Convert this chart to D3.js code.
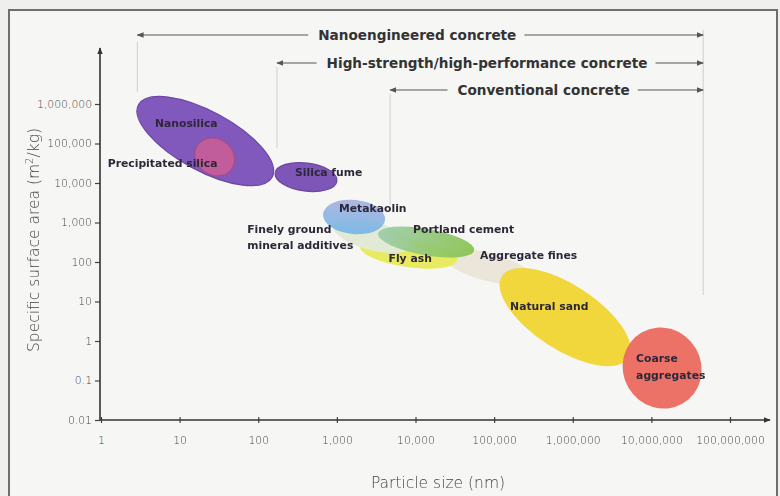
<!DOCTYPE html>
<html>
<head>
<meta charset="utf-8">
<script src="https://cdn.jsdelivr.net/npm/d3@7"></script>
<style>
  html, body { margin: 0; padding: 0; background: #efefed; }
  svg { display: block; }
</style>
</head>
<body>
<div id="chart"></div>
<script>
// axis ticks
var sizeTicks = [1, 10, 100, 1e3, 1e4, 1e5, 1e6, 1e7, 1e8];
var areaTicks = [0.01, 0.1, 1, 10, 100, 1e3, 1e4, 1e5, 1e6];

// materials: major axis runs from (sizeFrom, areaFrom) to (sizeTo, areaTo)
var materials = ["Aggregate fines", "Fly ash", "Finely ground mineral additives", "Portland cement",
                 "Metakaolin", "Natural sand", "Coarse aggregates", "Silica fume", "Nanosilica", "Precipitated silica"];
var sizeFrom = [22400, 1970, 900, 3340, 667, 126000, 7.5e6, 164, 3, 17];
var sizeTo   = [313000, 33800, 8800, 55700, 4100, 5.07e6, 2.5e7, 1000, 150, 46];
var areaFrom = [150, 254, 815, 527, 1640, 44, 1.64, 17900, 950000, 92000];
var areaTo   = [37, 112, 254, 196, 1160, 0.37, 0.026, 11200, 14000, 22600];
var roundness = [0.3, 0.29, 0.35, 0.27, 0.55, 0.43, 0.95, 0.45, 0.39, 0.86];

// concrete classes by particle size (nm)
var classNames = ["Nanoengineered concrete", "High-strength/high-performance concrete", "Conventional concrete"];
var classFrom = [2.9, 173, 4750];
var classTo = 4.56e7;
var guideDown = [2e6, 77000, 2770];   // where the thin guide line stops (m2/kg)
var guideEndDown = 14.6;

var width = 780, height = 496;

var svg = d3.select("#chart").append("svg")
    .attr("width", width)
    .attr("height", height);

var x = d3.scaleLog().domain([1, 1e8]).range([101, 730]);
var y = d3.scaleLog().domain([0.01, 1e6]).range([420, 104]);

var fills = {
    "Nanosilica": "#8159bb",
    "Precipitated silica": "#c25d9c",
    "Silica fume": "#7d57b8",
    "Metakaolin": "url(#gMeta)",
    "Finely ground mineral additives": "#e2ead6",
    "Portland cement": "url(#gPort)",
    "Fly ash": "#e8ea5e",
    "Aggregate fines": "#ebe6d9",
    "Natural sand": "#f1d73b",
    "Coarse aggregates": "#eb6a60"
};
var strokes = {
    "Nanosilica": "#6c46a6",
    "Precipitated silica": "#a94b8b",
    "Silica fume": "#6a46a3"
};
var opac = {
    "Portland cement": 0.9,
    "Coarse aggregates": 0.95,
    "Metakaolin": 0.92
};

// label layout relative to ellipse centre
var labelPos = {
    "Nanosilica": {dx: -19, dy: [-18], anchor: "middle", lines: ["Nanosilica"]},
    "Precipitated silica": {dx: -107, dy: [6], anchor: "start", lines: ["Precipitated silica"]},
    "Silica fume": {dx: -11, dy: [-5], anchor: "start", lines: ["Silica fume"]},
    "Metakaolin": {dx: -15, dy: [-9], anchor: "start", lines: ["Metakaolin"]},
    "Finely ground mineral additives": {dx: -125, dy: [-7, 9], anchor: "start", lines: ["Finely ground", "mineral additives"]},
    "Portland cement": {dx: -13, dy: [-13], anchor: "start", lines: ["Portland cement"]},
    "Fly ash": {dx: -20, dy: [5], anchor: "start", lines: ["Fly ash"]},
    "Aggregate fines": {dx: -8, dy: [-12], anchor: "start", lines: ["Aggregate fines"]},
    "Natural sand": {dx: -55, dy: [-11], anchor: "start", lines: ["Natural sand"]},
    "Coarse aggregates": {dx: -26, dy: [-10, 7], anchor: "start", lines: ["Coarse", "aggregates"]}
};

var defs = svg.append("defs");
var gm = defs.append("linearGradient").attr("id", "gMeta").attr("x1", 0).attr("y1", 0).attr("x2", 0).attr("y2", 1);
gm.append("stop").attr("offset", "0%").attr("stop-color", "#a9b0de");
gm.append("stop").attr("offset", "100%").attr("stop-color", "#74b7e6");
var gp = defs.append("linearGradient").attr("id", "gPort").attr("x1", 0).attr("y1", 0).attr("x2", 1).attr("y2", 0);
gp.append("stop").attr("offset", "0%").attr("stop-color", "#9bcba9");
gp.append("stop").attr("offset", "100%").attr("stop-color", "#86c24a");
defs.append("filter").attr("id", "soft")
    .append("feGaussianBlur").attr("stdDeviation", 0.7);
defs.append("marker")
    .attr("id", "arrowHead")
    .attr("viewBox", "0 -5 10 10")
    .attr("refX", 9)
    .attr("refY", 0)
    .attr("markerWidth", 7)
    .attr("markerHeight", 7)
    .attr("markerUnits", "userSpaceOnUse")
    .attr("orient", "auto-start-reverse")
    .append("path")
    .attr("d", "M0,-4L10,0L0,4Z")
    .attr("fill", "#555");
defs.append("marker")
    .attr("id", "axisHead")
    .attr("viewBox", "0 -5 10 10")
    .attr("refX", 9)
    .attr("refY", 0)
    .attr("markerWidth", 7)
    .attr("markerHeight", 7)
    .attr("markerUnits", "userSpaceOnUse")
    .attr("orient", "auto")
    .append("path")
    .attr("d", "M0,-4L10,0L0,4Z")
    .attr("fill", "#333");

// frame
svg.append("rect")
    .attr("x", 9).attr("y", 10)
    .attr("width", 768).attr("height", 496)
    .attr("fill", "#f6f6f4")
    .attr("stroke", "#6e6e6e")
    .attr("stroke-width", 2);

// guide lines
var guides = svg.append("g").attr("stroke", "#cfcfcf").attr("stroke-width", 1);
var guideTop = [42, 67, 94];
for (var i = 0; i < classNames.length; i++) {
    guides.append("line")
        .attr("x1", x(classFrom[i])).attr("x2", x(classFrom[i]))
        .attr("y1", guideTop[i]).attr("y2", y(guideDown[i]));
}
guides.append("line")
    .attr("x1", x(classTo)).attr("x2", x(classTo))
    .attr("y1", 30).attr("y2", y(guideEndDown));

// class arrows
var rowY = [35, 63, 90];
for (var i = 0; i < classNames.length; i++) {
    var x0 = x(classFrom[i]), x1 = x(classTo);
    var cx = (x0 + x1) / 2 - 3;
    var t = svg.append("text")
        .attr("x", cx).attr("y", rowY[i]).attr("dy", "0.36em")
        .attr("text-anchor", "middle")
        .attr("font-family", "DejaVu Sans")
        .attr("font-weight", "bold")
        .attr("font-size", 13.6)
        .attr("fill", "#333")
        .text(classNames[i]);
    var w = t.node().getComputedTextLength();
    svg.append("line")
        .attr("x1", cx - w / 2 - 10).attr("x2", x0)
        .attr("y1", rowY[i]).attr("y2", rowY[i])
        .attr("stroke", "#555").attr("stroke-width", 1.2)
        .attr("marker-end", "url(#arrowHead)");
    svg.append("line")
        .attr("x1", cx + w / 2 + 8).attr("x2", x1)
        .attr("y1", rowY[i]).attr("y2", rowY[i])
        .attr("stroke", "#555").attr("stroke-width", 1.2)
        .attr("marker-end", "url(#arrowHead)");
}

// ellipses
var shapes = materials.map(function(m, i) {
    var ax = x(sizeFrom[i]), ay = y(areaFrom[i]);
    var bx = x(sizeTo[i]), by = y(areaTo[i]);
    var a = Math.sqrt((bx - ax) * (bx - ax) + (by - ay) * (by - ay)) / 2;
    return {
        name: m,
        cx: (ax + bx) / 2, cy: (ay + by) / 2,
        rx: a, ry: a * roundness[i],
        angle: Math.atan2(by - ay, bx - ax) * 180 / Math.PI
    };
});

svg.append("g").attr("filter", "url(#soft)")
    .selectAll("ellipse")
    .data(shapes)
    .enter().append("ellipse")
    .attr("cx", 0).attr("cy", 0)
    .attr("rx", function(d) { return d.rx; })
    .attr("ry", function(d) { return d.ry; })
    .attr("transform", function(d) { return "translate(" + d.cx + "," + d.cy + ") rotate(" + d.angle + ")"; })
    .attr("fill", function(d) { return fills[d.name]; })
    .attr("fill-opacity", function(d) { return opac[d.name] || 1; })
    .attr("stroke", function(d) { return strokes[d.name] || "none"; })
    .attr("stroke-width", 1.2);

// labels
var labels = svg.append("g")
    .attr("font-family", "DejaVu Sans")
    .attr("font-weight", "bold")
    .attr("font-size", 10.8)
    .attr("fill", "#2c2838");
shapes.forEach(function(d) {
    var l = labelPos[d.name];
    l.lines.forEach(function(line, j) {
        labels.append("text")
            .attr("x", d.cx + l.dx)
            .attr("y", d.cy + l.dy[j])
            .attr("dy", "0.36em")
            .attr("text-anchor", l.anchor)
            .text(line);
    });
});

// axes
var fmt = function(d) { return d >= 1 ? d3.format(",")(d) : String(d); };

var xAxis = svg.append("g")
    .attr("transform", "translate(0,420)")
    .call(d3.axisBottom(x).tickValues(sizeTicks).tickFormat(fmt).tickSize(-4).tickPadding(16));
var yAxis = svg.append("g")
    .attr("transform", "translate(100,0)")
    .call(d3.axisLeft(y).tickValues(areaTicks).tickFormat(fmt).tickSize(5).tickPadding(3));

[xAxis, yAxis].forEach(function(g) {
    g.select(".domain").remove();
    g.selectAll(".tick line").attr("stroke", "#444").attr("stroke-width", 1.2);
    g.selectAll(".tick text")
        .attr("font-family", "DejaVu Sans")
        .attr("font-weight", 200)
        .attr("font-size", 10.8)
        .attr("fill", "#444");
});
xAxis.selectAll(".tick line").attr("y2", 3).attr("y1", -3);

svg.append("line")
    .attr("x1", 100).attr("y1", 420).attr("x2", 770).attr("y2", 420)
    .attr("stroke", "#333").attr("stroke-width", 1.6)
    .attr("marker-end", "url(#axisHead)");
svg.append("line")
    .attr("x1", 100).attr("y1", 420).attr("x2", 100).attr("y2", 48)
    .attr("stroke", "#333").attr("stroke-width", 1.6)
    .attr("marker-end", "url(#axisHead)");

// axis titles
svg.append("text")
    .attr("x", 438).attr("y", 488)
    .attr("text-anchor", "middle")
    .attr("font-family", "DejaVu Sans")
    .attr("font-weight", 200)
    .attr("font-size", 15.5)
    .attr("fill", "#444")
    .text("Particle size (nm)");

var yt = svg.append("text")
    .attr("transform", "translate(39,240) rotate(-90)")
    .attr("text-anchor", "middle")
    .attr("font-family", "DejaVu Sans")
    .attr("font-weight", 200)
    .attr("font-size", 15.5)
    .attr("fill", "#444");
yt.append("tspan").text("Specific surface area (m");
yt.append("tspan").attr("font-size", 10).attr("dy", -6).text("2");
yt.append("tspan").attr("dy", 6).text("/kg)");
</script>
</body>
</html>
